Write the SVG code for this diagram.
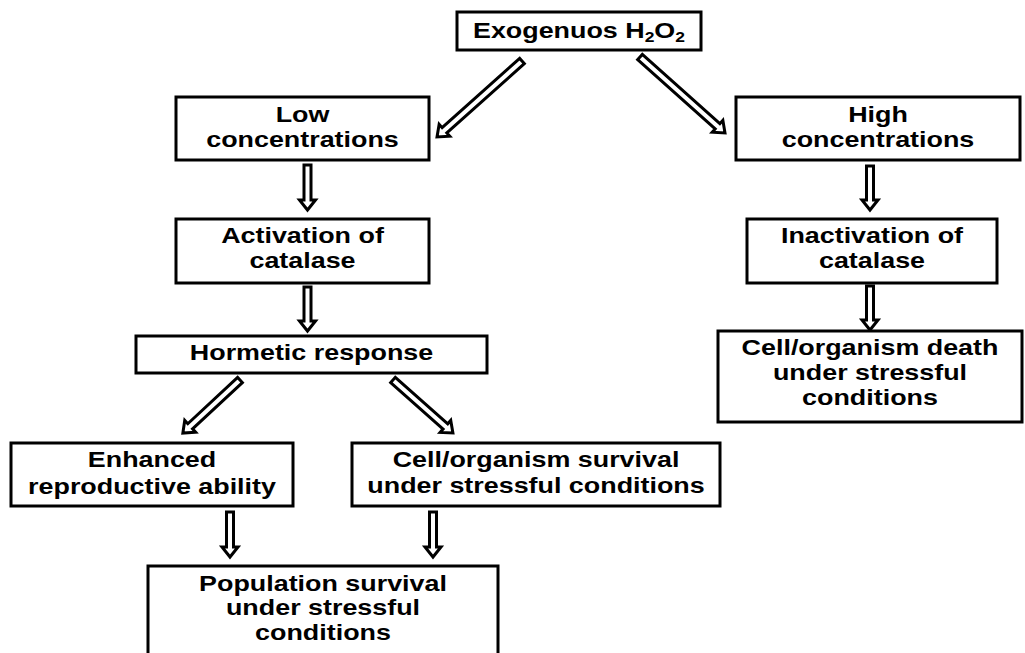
<svg xmlns="http://www.w3.org/2000/svg" width="1025" height="653" viewBox="0 0 1025 653">
<style>
.box{fill:#fff;stroke:#000;stroke-width:3}
.arr{fill:#fff;stroke:#000;stroke-width:3;stroke-linejoin:miter}
text{font-family:"Liberation Sans",Arial,sans-serif;font-weight:bold;font-size:21.5px;fill:#000;text-anchor:middle}
</style>
<rect width="1025" height="653" fill="#fff"/>
<g id="connectors">
<polygon class="arr" points="0,-3.5 104,-3.5 104,-8 114,0 104,8 104,3.5 0,3.5" transform="translate(522,61) rotate(138.2)"/>
<polygon class="arr" points="0,-3.5 104,-3.5 104,-8 114,0 104,8 104,3.5 0,3.5" transform="translate(640,57) rotate(41.8)"/>
<polygon class="arr" points="304,165 311,165 311,200 315.5,200 307.5,210 299.5,200 304,200"/>
<polygon class="arr" points="304,287 311,287 311,321 315.5,321 307.5,331 299.5,321 304,321"/>
<polygon class="arr" points="866.5,166 873.5,166 873.5,200 878,200 870,210 862,200 866.5,200"/>
<polygon class="arr" points="866.5,286 873.5,286 873.5,320 878,320 870,330 862,320 866.5,320"/>
<polygon class="arr" points="0,-3.5 68,-3.5 68,-8 78,0 68,8 68,3.5 0,3.5" transform="translate(240,380) rotate(137.1)"/>
<polygon class="arr" points="0,-3.5 70,-3.5 70,-8 80,0 70,8 70,3.5 0,3.5" transform="translate(393,380) rotate(41.5)"/>
<polygon class="arr" points="226.5,512 233.5,512 233.5,547 238,547 230,557 222,547 226.5,547"/>
<polygon class="arr" points="429.5,512 436.5,512 436.5,547 441,547 433,557 425,547 429.5,547"/>
</g>
<g id="exogenous">
<rect class="box" x="457" y="12" width="244" height="38"/>
<text transform="translate(579,38) scale(1.25,1)">Exogenuos H<tspan font-size="14" dy="4">2</tspan><tspan dy="-4">O</tspan><tspan font-size="14" dy="4">2</tspan></text>
</g>
<g id="low">
<rect class="box" x="176" y="97" width="253" height="63"/>
<text transform="translate(302.5,122) scale(1.25,1)">Low</text>
<text transform="translate(302.5,147) scale(1.25,1)">concentrations</text>
</g>
<g id="activation">
<rect class="box" x="176" y="219" width="253" height="64"/>
<text transform="translate(302.5,243) scale(1.25,1)">Activation of</text>
<text transform="translate(302.5,268) scale(1.25,1)">catalase</text>
</g>
<g id="hormetic">
<rect class="box" x="136" y="336" width="351" height="37"/>
<text transform="translate(311.5,360) scale(1.25,1)">Hormetic response</text>
</g>
<g id="enhanced">
<rect class="box" x="11" y="443" width="282" height="63"/>
<text transform="translate(152,467) scale(1.25,1)">Enhanced</text>
<text transform="translate(152,494) scale(1.25,1)">reproductive ability</text>
</g>
<g id="survival">
<rect class="box" x="352" y="443" width="368" height="63"/>
<text transform="translate(536,467) scale(1.25,1)">Cell/organism survival</text>
<text transform="translate(536,493) scale(1.25,1)">under stressful conditions</text>
</g>
<g id="population">
<rect class="box" x="148" y="566" width="350" height="100"/>
<text transform="translate(323,591) scale(1.25,1)">Population survival</text>
<text transform="translate(323,615) scale(1.25,1)">under stressful</text>
<text transform="translate(323,640) scale(1.25,1)">conditions</text>
</g>
<g id="high">
<rect class="box" x="736" y="97" width="284" height="63"/>
<text transform="translate(878,122) scale(1.25,1)">High</text>
<text transform="translate(878,147) scale(1.25,1)">concentrations</text>
</g>
<g id="inactivation">
<rect class="box" x="747" y="219" width="250" height="64"/>
<text transform="translate(872,243) scale(1.25,1)">Inactivation of</text>
<text transform="translate(872,268) scale(1.25,1)">catalase</text>
</g>
<g id="death">
<rect class="box" x="718" y="331" width="304" height="91"/>
<text transform="translate(870,355) scale(1.25,1)">Cell/organism death</text>
<text transform="translate(870,380) scale(1.25,1)">under stressful</text>
<text transform="translate(870,405) scale(1.25,1)">conditions</text>
</g>
</svg>
